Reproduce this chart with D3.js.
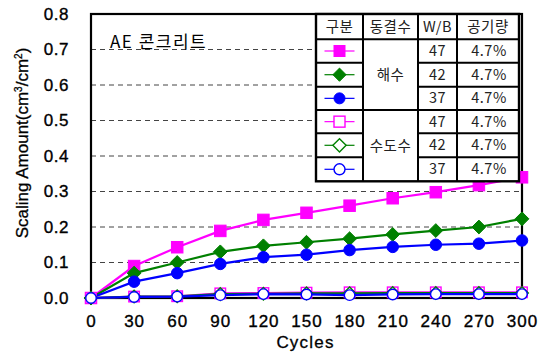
<!DOCTYPE html>
<html>
<head>
<meta charset="utf-8">
<script src="https://cdn.jsdelivr.net/npm/d3@7"></script>
<style>
  body { margin: 0; background: #fff; }
  svg { display: block; }
</style>
</head>
<body>
<svg id="chart" width="545" height="352"></svg>
<script>
// Freeze-thaw cycles (x axis)
const cycles = [0, 30, 60, 90, 120, 150, 180, 210, 240, 270, 300];

// Scaling amount (cm3/cm2) — seawater series
const sea47 = [0, 0.090, 0.143, 0.189, 0.220, 0.240, 0.260, 0.281, 0.298, 0.318, 0.340];
const sea42 = [0, 0.070, 0.100, 0.130, 0.147, 0.157, 0.167, 0.179, 0.190, 0.200, 0.223];
const sea37 = [0, 0.046, 0.070, 0.096, 0.115, 0.122, 0.135, 0.144, 0.150, 0.153, 0.162];

// Scaling amount (cm3/cm2) — tap water series
const tap47 = [0, 0.004, 0.005, 0.013, 0.014, 0.015, 0.016, 0.016, 0.016, 0.016, 0.016];
const tap42 = [0, 0.004, 0.005, 0.011, 0.012, 0.013, 0.013, 0.014, 0.014, 0.014, 0.014];
const tap37 = [0, 0.003, 0.004, 0.008, 0.011, 0.010, 0.008, 0.010, 0.011, 0.011, 0.011];

// Axis ticks
const xTicks = [0, 30, 60, 90, 120, 150, 180, 210, 240, 270, 300];
const yTicks = [0, 0.1, 0.2, 0.3, 0.4, 0.5, 0.6, 0.7, 0.8];
const gridTicks = [0.1, 0.2, 0.3, 0.4, 0.5, 0.6, 0.7];

// Legend table contents
const tableHeader = ["구분", "동결수", "W/B", "공기량"];
const waterGroups = ["해수", "수도수"];
const wbRatios = ["47", "42", "37", "47", "42", "37"];
const airContents = ["4.7%", "4.7%", "4.7%", "4.7%", "4.7%", "4.7%"];

const seriesList = [
  { values: sea47, color: "#ff00ff", shape: "square", filled: true },
  { values: sea42, color: "#008000", shape: "diamond", filled: true },
  { values: sea37, color: "#0000ff", shape: "circle", filled: true },
  { values: tap47, color: "#ff00ff", shape: "square", filled: false },
  { values: tap42, color: "#008000", shape: "diamond", filled: false },
  { values: tap37, color: "#0000ff", shape: "circle", filled: false }
];

const svg = d3.select("#chart");
const margin = { left: 91, right: 23, top: 14, bottom: 54 };
const W = 545, H = 352;

const x = d3.scaleLinear().domain([0, 300]).range([margin.left, W - margin.right]);
const y = d3.scaleLinear().domain([0, 0.8]).range([H - margin.bottom, margin.top]);

const latin = "'Liberation Sans', Arial, sans-serif";
const korean = "'Noto Sans CJK KR', 'Noto Sans', sans-serif";

// Dashed horizontal gridlines
svg.append("g")
  .selectAll("line")
  .data(gridTicks)
  .join("line")
  .attr("x1", x(0)).attr("x2", x(300))
  .attr("y1", d => y(d)).attr("y2", d => y(d))
  .attr("stroke", "#444")
  .attr("stroke-width", 1)
  .attr("stroke-dasharray", "5,4");

// Axes (labels only, no tick marks)
const yAxis = svg.append("g")
  .attr("transform", `translate(${x(0)},0)`)
  .call(d3.axisLeft(y).tickValues(yTicks).tickFormat(d3.format(".1f")).tickSize(0).tickPadding(22));
yAxis.select(".domain").remove();
yAxis.selectAll("text")
  .attr("font-family", latin).attr("font-size", 17).attr("fill", "#000")
  .attr("stroke", "#000").attr("stroke-width", 0.35)
  .attr("letter-spacing", "0.5px");

const xAxis = svg.append("g")
  .attr("transform", `translate(0,${y(0)})`)
  .call(d3.axisBottom(x).tickValues(xTicks).tickFormat(d3.format("d")).tickSize(0).tickPadding(17));
xAxis.select(".domain").remove();
xAxis.selectAll("text")
  .attr("font-family", latin).attr("font-size", 17).attr("fill", "#000")
  .attr("stroke", "#000").attr("stroke-width", 0.35)
  .attr("letter-spacing", "1px");

// Plot frame
svg.append("rect")
  .attr("x", x(0)).attr("y", y(0.8))
  .attr("width", x(300) - x(0)).attr("height", y(0) - y(0.8))
  .attr("fill", "none").attr("stroke", "#000").attr("stroke-width", 2.2);

// Axis titles
svg.append("text")
  .attr("x", (x(0) + x(300)) / 2 - 1).attr("y", 348)
  .attr("text-anchor", "middle")
  .attr("font-family", latin).attr("font-size", 17).attr("letter-spacing", "1.2px")
  .attr("stroke", "#000").attr("stroke-width", 0.3)
  .text("Cycles");

const yTitle = svg.append("text")
  .attr("transform", `translate(28,143) rotate(-90)`)
  .attr("text-anchor", "middle")
  .attr("font-family", latin).attr("font-size", 17)
  .attr("stroke", "#000").attr("stroke-width", 0.3);
yTitle.append("tspan").text("Scaling Amount(cm");
yTitle.append("tspan").attr("font-size", 10).attr("dy", -6).text("3");
yTitle.append("tspan").attr("dy", 6).text("/cm");
yTitle.append("tspan").attr("font-size", 10).attr("dy", -6).text("2");
yTitle.append("tspan").attr("dy", 6).text(")");

// Chart label
svg.append("text")
  .attr("x", 110).attr("y", 48)
  .attr("font-family", korean).attr("font-size", 17)
  .attr("letter-spacing", "1.5px")
  .text("AE 콘크리트");

// Marker drawing helper
function drawMarker(g, shape, cx, cy, color, filled, size) {
  const fill = filled ? color : "#fff";
  const sw = filled ? 1 : 1.4;
  if (shape === "square") {
    g.append("rect")
      .attr("x", cx - size / 2).attr("y", cy - size / 2)
      .attr("width", size).attr("height", size)
      .attr("fill", fill).attr("stroke", color).attr("stroke-width", sw);
  } else if (shape === "diamond") {
    const r = size * 0.6;
    g.append("path")
      .attr("d", `M${cx},${cy - r}L${cx + r},${cy}L${cx},${cy + r}L${cx - r},${cy}Z`)
      .attr("fill", fill).attr("stroke", color).attr("stroke-width", sw);
  } else {
    g.append("circle")
      .attr("cx", cx).attr("cy", cy).attr("r", size / 2)
      .attr("fill", fill).attr("stroke", color).attr("stroke-width", sw);
  }
}

// Series lines and markers
const line = d3.line().x((d, i) => x(cycles[i])).y(d => y(d));
seriesList.forEach(s => {
  const g = svg.append("g");
  g.append("path")
    .attr("d", line(s.values))
    .attr("fill", "none").attr("stroke", s.color).attr("stroke-width", 2.2);
  s.values.forEach((v, i) => {
    drawMarker(g, s.shape, x(cycles[i]), y(v), s.color, s.filled, s.filled ? 11.5 : 10.5);
  });
});

// Legend table
const tx = [316, 363, 418, 457, 519];
const ty = [14, 39.3, 62.7, 86.7, 110, 133.3, 157.3, 181.3];
const tbl = svg.append("g");
tbl.append("rect")
  .attr("x", tx[0]).attr("y", ty[0])
  .attr("width", tx[4] - tx[0]).attr("height", ty[7] - ty[0])
  .attr("fill", "#fff").attr("stroke", "none");

const lineSeg = (x1, y1, x2, y2, w) => tbl.append("line")
  .attr("x1", x1).attr("y1", y1).attr("x2", x2).attr("y2", y2)
  .attr("stroke", "#000").attr("stroke-width", w);

// Row separators (group column spans 3 rows)
for (let r = 1; r < 7; r++) {
  if (r === 1 || r === 4) {
    lineSeg(tx[0], ty[r], tx[4], ty[r], 2);
  } else {
    lineSeg(tx[0], ty[r], tx[1], ty[r], 2);
    lineSeg(tx[2], ty[r], tx[4], ty[r], 2);
  }
}
for (let c = 1; c < 4; c++) lineSeg(tx[c], ty[0], tx[c], ty[7], 2);
tbl.append("rect")
  .attr("x", tx[0]).attr("y", ty[0])
  .attr("width", tx[4] - tx[0]).attr("height", ty[7] - ty[0])
  .attr("fill", "none").attr("stroke", "#000").attr("stroke-width", 2.4);

const cellText = (cx, cy, t) => tbl.append("text")
  .attr("x", cx).attr("y", cy).attr("dy", "0.35em")
  .attr("text-anchor", "middle")
  .attr("font-family", korean).attr("font-size", 14.5).attr("fill", "#222")
  .attr("letter-spacing", "0.5px")
  .text(t);

tableHeader.forEach((t, c) => cellText((tx[c] + tx[c + 1]) / 2, (ty[0] + ty[1]) / 2, t));
waterGroups.forEach((t, k) => cellText((tx[1] + tx[2]) / 2, (ty[1 + 3 * k] + ty[4 + 3 * k]) / 2, t));
wbRatios.forEach((t, r) => cellText((tx[2] + tx[3]) / 2, (ty[r + 1] + ty[r + 2]) / 2, t));
airContents.forEach((t, r) => cellText((tx[3] + tx[4]) / 2 + 1, (ty[r + 1] + ty[r + 2]) / 2, t));

seriesList.forEach((s, r) => {
  const cy = (ty[r + 1] + ty[r + 2]) / 2;
  const cx = (tx[0] + tx[1]) / 2;
  tbl.append("line")
    .attr("x1", cx - 15).attr("x2", cx + 15).attr("y1", cy).attr("y2", cy)
    .attr("stroke", s.color).attr("stroke-width", 1.2);
  drawMarker(tbl, s.shape, cx, cy, s.color, s.filled, 11);
});
</script>
</body>
</html>
